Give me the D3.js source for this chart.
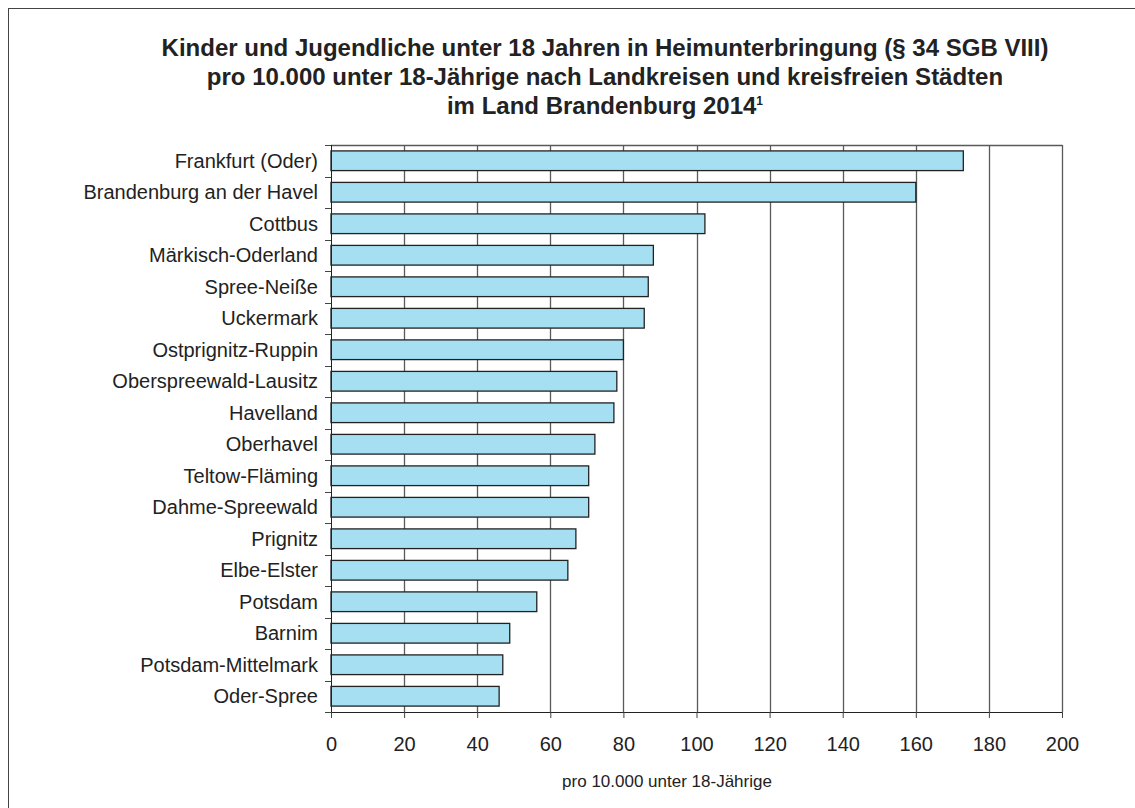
<!DOCTYPE html>
<html><head><meta charset="utf-8">
<script src="https://cdn.jsdelivr.net/npm/d3@7"></script>
<style>
body{margin:0;background:#fff;}
svg{display:block;font-family:"Liberation Sans",Arial,sans-serif;}
</style></head>
<body><svg id="chart" width="1135" height="808"></svg>
<script>
const titleLines = [
  "Kinder und Jugendliche unter 18 Jahren in Heimunterbringung (§ 34 SGB VIII)",
  "pro 10.000 unter 18-Jährige nach Landkreisen und kreisfreien Städten",
  "im Land Brandenburg 2014"
];
const categories = ["Frankfurt (Oder)","Brandenburg an der Havel","Cottbus","Märkisch-Oderland","Spree-Neiße","Uckermark","Ostprignitz-Ruppin","Oberspreewald-Lausitz","Havelland","Oberhavel","Teltow-Fläming","Dahme-Spreewald","Prignitz","Elbe-Elster","Potsdam","Barnim","Potsdam-Mittelmark","Oder-Spree"];
const values = [173.0,160.0,102.3,88.2,86.8,85.7,80.0,78.2,77.4,72.2,70.5,70.5,67.0,64.8,56.3,48.9,47.0,46.0];
const xTicks = [0,20,40,60,80,100,120,140,160,180,200];
const xTitle = "pro 10.000 unter 18-Jährige";

const svg = d3.select("#chart");
const L = 331, R = 1062, T = 145, B = 712;

// outer frame
svg.append("rect").attr("x",8.5).attr("y",8.5).attr("width",1140).attr("height",820)
  .attr("fill","none").attr("stroke","#444").attr("stroke-width",1);

const x = d3.scaleLinear().domain([0,200]).range([L,R]);
const y = d3.scaleBand().domain(categories).range([T,B]).paddingInner(0.375).paddingOuter(0.1875);

// gridlines
svg.append("g").selectAll("line").data(xTicks.slice(1)).join("line")
  .attr("x1",d=>Math.round(x(d))+0.5).attr("x2",d=>Math.round(x(d))+0.5)
  .attr("y1",T).attr("y2",B).attr("stroke","#5a5a5a").attr("stroke-width",1.3);
// top border
svg.append("line").attr("x1",L).attr("x2",R+0.5).attr("y1",T+0.5).attr("y2",T+0.5)
  .attr("stroke","#5a5a5a").attr("stroke-width",1.3);

// bars
svg.append("g").selectAll("rect").data(categories).join("rect")
  .attr("x",x(0)).attr("y",d=>y(d)).attr("width",(d,i)=>x(values[i])-x(0)).attr("height",y.bandwidth())
  .attr("fill","#a6dff1").attr("stroke","#222").attr("stroke-width",1.3);

// x axis
const xAxis = d3.axisBottom(x).tickValues(xTicks).tickSize(6).tickSizeOuter(0).tickPadding(19);
const gx = svg.append("g").attr("transform",`translate(0,${B})`).call(xAxis);
gx.select(".domain").attr("stroke","#222");
gx.selectAll(".tick line").attr("stroke","#444");
gx.selectAll("text").attr("font-size",20).attr("fill","#222").attr("font-family","Liberation Sans, Arial, sans-serif");

// y axis line with boundary ticks
const bounds = d3.range(categories.length+1).map(i=>T + i*y.step());
svg.append("line").attr("x1",L+0.5).attr("x2",L+0.5).attr("y1",T).attr("y2",B).attr("stroke","#222");
svg.append("g").selectAll("line").data(bounds).join("line")
  .attr("x1",L-6).attr("x2",L).attr("y1",d=>Math.round(d)+0.5).attr("y2",d=>Math.round(d)+0.5)
  .attr("stroke","#444");

// y labels
svg.append("g").selectAll("text").data(categories).join("text")
  .attr("x",318).attr("y",d=>y(d)+y.bandwidth()/2).attr("dy","0.35em")
  .attr("text-anchor","end").attr("font-size",20).attr("fill","#222").text(d=>d);

// title
const tt = svg.append("text").attr("text-anchor","middle").attr("font-weight","bold")
  .attr("font-size",24).attr("fill","#222");
titleLines.forEach((t,i)=>{
  tt.append("tspan").attr("x",605).attr("y",56+i*29).text(t);
});
tt.select("tspan:last-child").append("tspan").attr("font-size",12).attr("dy","-9").text("1");

// x title
svg.append("text").attr("x",667).attr("y",787).attr("text-anchor","middle")
  .attr("font-size",17).attr("fill","#222").text(xTitle);
</script></body></html>
